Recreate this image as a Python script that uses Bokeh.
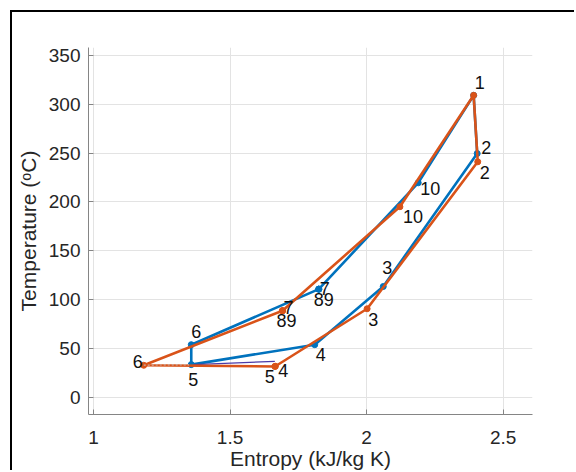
from bokeh.plotting import figure
from bokeh.models import ColumnDataSource, FixedTicker, Range1d, CDSView, IndexFilter
from bokeh.core.properties import value
from bokeh.embed import file_html
from bokeh.resources import INLINE

# ---- data ----
state_labels = ["1", "2", "3", "4", "5", "6", "7", "8", "9", "10"]

s_blue = [2.392, 2.405, 2.061, 1.810, 1.358, 1.358, 1.825, 1.825, 1.825, 2.189]
T_blue = [309.2, 249.6, 113.4, 53.8, 33.4, 53.8, 110.7, 110.7, 110.7, 219.6]

s_orange = [2.392, 2.407, 2.002, 1.666, 1.664, 1.184, 1.692, 1.692, 1.692, 2.122]
T_orange = [309.2, 241.1, 90.6, 31.7, 31.5, 32.7, 88.6, 88.6, 88.6, 195.1]

s_aux = [1.366, 1.664]
T_aux = [33.4, 36.8]

s_dot = [1.184, 1.350]
T_dot = [32.9, 33.2]

x_ticks = [1, 1.5, 2, 2.5]
y_ticks = [0, 50, 100, 150, 200, 250, 300, 350]

# label offsets in screen pixels (dx, dy)
blue_dx = [6, 9, 4, 6, 2, 5, 6, 0, 10, 12]
blue_dy = [-13, -6, -19, 10, 15, -13, -1, 10, 10, 6]
orange_dx = [6, 7, 6, 8, -5, -6, 6, -1, 9, 13]
orange_dy = [-13, 11, 11, 4, 10, -4, -3, 10, 10, 10]

BLUE = "#0072BD"
ORANGE = "#D95319"
FONT = "Liberation Sans"

p = figure(width=564, height=460, output_backend="svg", toolbar_location=None,
           x_range=Range1d(0.9817, 2.6075), y_range=Range1d(-17.7, 358.2),
           min_border_left=76, min_border_right=44, min_border_top=35,
           min_border_bottom=57)
p.styles = {"margin-left": "10px", "margin-top": "10px",
            "border-top": "2px solid black", "border-left": "2px solid black"}
p.outline_line_color = None
p.background_fill_color = "white"
p.border_fill_color = "white"

p.xaxis.ticker = FixedTicker(ticks=x_ticks)
p.yaxis.ticker = FixedTicker(ticks=y_ticks)
p.xaxis.major_label_overrides = {1: "1", 1.5: "1.5", 2: "2", 2.5: "2.5"}
for ax in (p.xaxis, p.yaxis):
    ax.axis_line_color = "#858585"
    ax.major_tick_line_color = "#858585"
    ax.major_tick_in = 5
    ax.major_tick_out = 0
    ax.minor_tick_line_color = None
    ax.major_label_text_font = FONT
    ax.major_label_text_font_size = "19px"
    ax.major_label_text_color = "#262626"
    ax.axis_label_text_font = FONT
    ax.axis_label_text_font_size = "21px"
    ax.axis_label_text_font_style = "normal"
    ax.axis_label_text_color = "#262626"
p.xaxis.major_label_standoff = 16
p.yaxis.major_label_standoff = 8
p.xaxis.axis_label_standoff = 0
p.yaxis.axis_label_standoff = 6
p.xaxis.axis_label = "Entropy (kJ/kg K)"
p.yaxis.axis_label = "Temperature (\u1d52C)"

p.xgrid.ticker = FixedTicker(ticks=x_ticks)
p.ygrid.ticker = FixedTicker(ticks=y_ticks)
p.grid.grid_line_color = "#e3e3e3"
p.grid.grid_line_width = 1

# closed cycles
src_b = ColumnDataSource(dict(s=s_blue, T=T_blue, lab=state_labels, dx=blue_dx, dy=blue_dy))
src_o = ColumnDataSource(dict(s=s_orange, T=T_orange, lab=state_labels, dx=orange_dx, dy=orange_dy))

p.line(s_blue + s_blue[:1], T_blue + T_blue[:1], line_color=BLUE, line_width=2.6)
p.scatter("s", "T", source=src_b, size=6, color=BLUE)

p.line(s_aux, T_aux, line_color="#4a3aa8", line_width=1.2)

p.line(s_orange + s_orange[:1], T_orange + T_orange[:1], line_color=ORANGE, line_width=2.6)
p.scatter("s", "T", source=src_o, size=6, color=ORANGE)

p.line(s_dot, T_dot, line_color="#c9b0a8", line_width=1.2, line_dash="2 2")

text_kw = dict(text_align="center", text_baseline="middle",
               text_font=value(FONT), text_font_size="18px", text_color="#111111")
p.text("s", "T", text="lab", source=src_b, x_offset="dx", y_offset="dy", **text_kw)
# state 1 is shared by both cycles; its label is drawn once
orange_view = CDSView(filter=IndexFilter(indices=list(range(1, len(state_labels)))))
p.text("s", "T", text="lab", source=src_o, view=orange_view,
       x_offset="dx", y_offset="dy", **text_kw)

open("out.html", "w").write(file_html(p, INLINE))
